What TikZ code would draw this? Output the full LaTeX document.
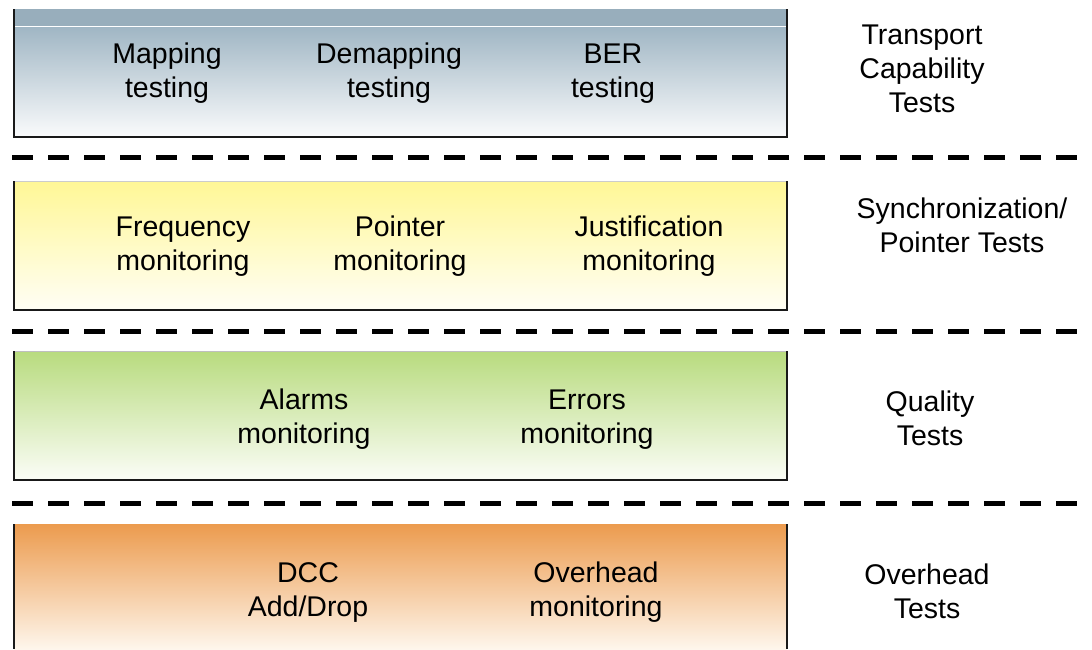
\documentclass[tikz,border=0pt]{standalone}
\usepackage{fontspec}
\setmainfont{Liberation Sans}
\newcommand{\fl}{\rule{0pt}{22pt}}
\begin{document}
\begin{tikzpicture}[x=1pt,y=-1pt,
  lbl/.style={align=center,font=\fontsize{28.5}{34}\selectfont,inner sep=0pt,text=black},
  sep/.style={line width=5pt,dash pattern=on 20.5pt off 15.5pt},
  edge/.style={draw=black!90,line width=1.2pt}]
\useasboundingbox[fill=white] (0,0) rectangle (1092,649);
% box 1
\fill[color={rgb,255:red,152;green,174;blue,188}] (14,9) rectangle (787,26);
\shade[top color={rgb,255:red,160;green,182;blue,196}, bottom color={rgb,255:red,250;green,251;blue,252}] (14,27) rectangle (787,137);
\draw[white,line width=1pt] (14,26.5) -- (787,26.5);
\draw[edge] (14,9) -- (14,137) -- (787,137) -- (787,9);
% box 2
\shade[top color={rgb,255:red,255;green,247;blue,150}, bottom color={rgb,255:red,255;green,254;blue,245}] (14,181) rectangle (787,310);
\draw[black!20,line width=0.8pt] (14,181) -- (787,181);
\draw[edge] (14,181) -- (14,310) -- (787,310) -- (787,181);
% box 3
\shade[top color={rgb,255:red,184;green,219;blue,126}, bottom color={rgb,255:red,251;green,253;blue,247}] (14,351) rectangle (787,480);
\draw[black!25,line width=0.8pt] (14,351) -- (787,351);
\draw[edge] (14,351) -- (14,480) -- (787,480) -- (787,351);
% box 4
\shade[top color={rgb,255:red,236;green,155;blue,78}, bottom color={rgb,255:red,254;green,246;blue,236}] (14,524) rectangle (787,649);
\draw[edge] (14,524) -- (14,649);
\draw[edge] (787,524) -- (787,649);
% separators
\draw[sep] (12,157) -- (1092,157);
\draw[sep] (12,331) -- (1092,331);
\draw[sep] (12,503) -- (1092,503);
% labels row 1
\node[lbl] (map) at (167,72) {\fl Mapping\\testing};
\node[lbl] (demap) at (389,72) {\fl Demapping\\testing};
\node[lbl] (ber) at (613,72) {\fl BER\\testing};
\node[lbl] (tct) at (922,68) {\fl Transport\\Capability\\Tests};
% row 2
\node[lbl] (freq) at (183,245) {\fl Frequency\\monitoring};
\node[lbl] (ptr) at (400,245) {\fl Pointer\\monitoring};
\node[lbl] (just) at (649,245) {\fl Justification\\monitoring};
\node[lbl] (spt) at (962,225) {\fl Synchronization/\\Pointer Tests};
% row 3
\node[lbl] (alarm) at (304,418) {\fl Alarms\\monitoring};
\node[lbl] (err) at (587,418) {\fl Errors\\monitoring};
\node[lbl] (qt) at (930,418) {\fl Quality\\Tests};
% row 4
\node[lbl] (dcc) at (308,591) {\fl DCC\\Add/Drop};
\node[lbl] (ovh) at (596,591) {\fl Overhead\\monitoring};
\node[lbl] (ot) at (927,591) {\fl Overhead\\Tests};
\end{tikzpicture}
\end{document}
